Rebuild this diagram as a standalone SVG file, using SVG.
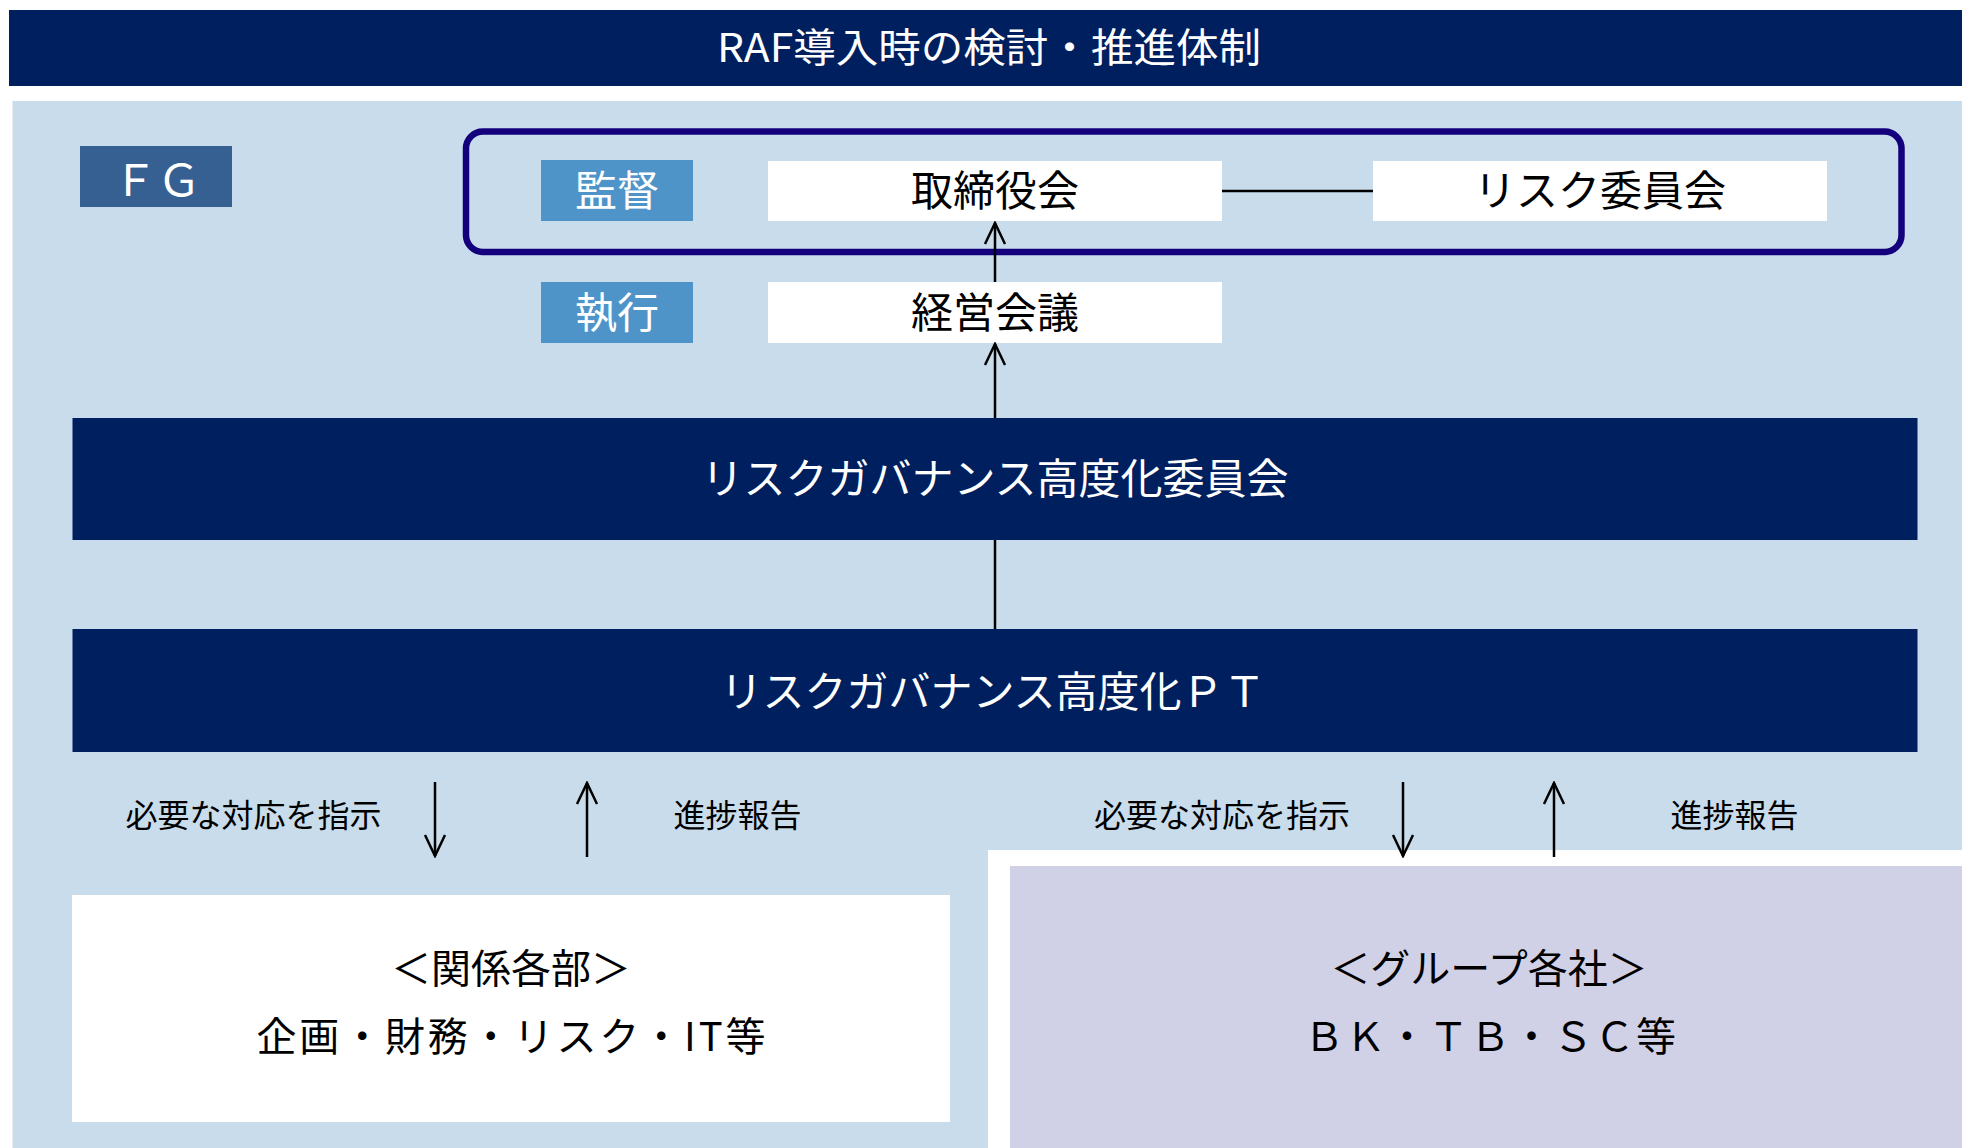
<svg xmlns="http://www.w3.org/2000/svg" width="1962" height="1148" viewBox="0 0 1962 1148">
<style>
  text { font-family: "Noto Sans CJK JP", "Noto Sans", sans-serif; text-anchor: middle; dominant-baseline: central; }
  .navy { fill: #001F5E; }
  .wt { fill: #FFFFFF; }
  .bk { fill: #000000; }
  .lbl { fill: #4F94C9; }
  .box { fill: #FFFFFF; }
  .conn { stroke: #000; stroke-width: 2.5; fill: none; }
</style>
<defs>
  <marker id="arr" viewBox="-24 -12 26 24" refX="0" refY="0" markerWidth="26" markerHeight="24" markerUnits="userSpaceOnUse" orient="auto">
    <path d="M-21,-10 L0,0 L-21,10" fill="none" stroke="#000" stroke-width="2.5"/>
  </marker>
</defs>
<rect x="0" y="0" width="1962" height="1148" fill="#FFFFFF"/>
<g id="title">
  <rect x="9" y="10" width="1953" height="76" class="navy"/>
  <text x="989" y="45" font-size="40" class="wt" textLength="544" lengthAdjust="spacingAndGlyphs">RAF導入時の検討・推進体制</text>
</g>
<rect id="background" x="12.5" y="101" width="1950" height="1047" fill="#C9DCEB"/>
<rect id="group-area" x="988" y="850" width="974" height="298" fill="#FFFFFF"/>
<g id="fg">
  <rect x="80" y="146" width="152" height="61" fill="#376092"/>
  <text x="157" y="177" font-size="44" class="wt">ＦＧ</text>
</g>
<g id="supervision-frame">
  <rect x="466" y="131.5" width="1435.5" height="120.5" rx="17" ry="17" fill="none" stroke="#14007D" stroke-width="6.5"/>
</g>
<g id="kantoku">
  <rect x="541" y="160" width="152" height="61" class="lbl"/>
  <text x="617" y="187" font-size="42" class="wt">監督</text>
</g>
<g id="shikko">
  <rect x="541" y="282" width="152" height="61" class="lbl"/>
  <text x="617" y="309" font-size="42" class="wt">執行</text>
</g>
<g id="board">
  <rect x="768" y="161" width="454" height="60" class="box"/>
  <text x="995" y="187" font-size="42" class="bk">取締役会</text>
</g>
<g id="risk-committee">
  <rect x="1373" y="161" width="454" height="60" class="box"/>
  <text x="1600" y="187" font-size="42" class="bk">リスク委員会</text>
</g>
<g id="management">
  <rect x="768" y="282" width="454" height="61" class="box"/>
  <text x="995" y="309" font-size="42" class="bk">経営会議</text>
</g>
<g id="rg-committee">
  <rect x="72.5" y="418" width="1845" height="122" class="navy"/>
  <text x="995" y="475" font-size="42" class="wt">リスクガバナンス高度化委員会</text>
</g>
<g id="rg-pt">
  <rect x="72.5" y="629" width="1845" height="123" class="navy"/>
  <text x="993" y="688" font-size="42" class="wt">リスクガバナンス高度化ＰＴ</text>
</g>
<g id="departments">
  <rect x="72" y="895" width="878" height="227" class="box"/>
  <text x="511" y="966" font-size="40" class="bk">＜関係各部＞</text>
  <text x="511" y="1034" font-size="40" class="bk" textLength="509" lengthAdjust="spacing">企画・財務・リスク・IT等</text>
</g>
<g id="group-companies">
  <rect x="1010" y="866" width="952" height="282" fill="#D0D0E6"/>
  <text x="1489" y="966" font-size="40" class="bk">＜グループ各社＞</text>
  <text x="1490" y="1034" font-size="40" class="bk" textLength="372" lengthAdjust="spacing">ＢＫ・ＴＢ・ＳＣ等</text>
</g>
<g id="labels">
  <text x="253.5" y="813" font-size="32" class="bk">必要な対応を指示</text>
  <text x="737.5" y="813" font-size="32" class="bk">進捗報告</text>
  <text x="1222" y="813" font-size="32" class="bk">必要な対応を指示</text>
  <text x="1734.5" y="813" font-size="32" class="bk">進捗報告</text>
</g>
<g id="connectors">
  <line x1="1222" y1="191" x2="1373" y2="191" class="conn"/>
  <line x1="995" y1="282" x2="995" y2="223" class="conn" marker-end="url(#arr)"/>
  <line x1="995" y1="418" x2="995" y2="344" class="conn" marker-end="url(#arr)"/>
  <line x1="995" y1="540" x2="995" y2="629" class="conn"/>
  <line x1="435" y1="782" x2="435" y2="856" class="conn" marker-end="url(#arr)"/>
  <line x1="587" y1="857" x2="587" y2="783" class="conn" marker-end="url(#arr)"/>
  <line x1="1403" y1="782" x2="1403" y2="856" class="conn" marker-end="url(#arr)"/>
  <line x1="1554" y1="857" x2="1554" y2="783" class="conn" marker-end="url(#arr)"/>
</g>
</svg>
